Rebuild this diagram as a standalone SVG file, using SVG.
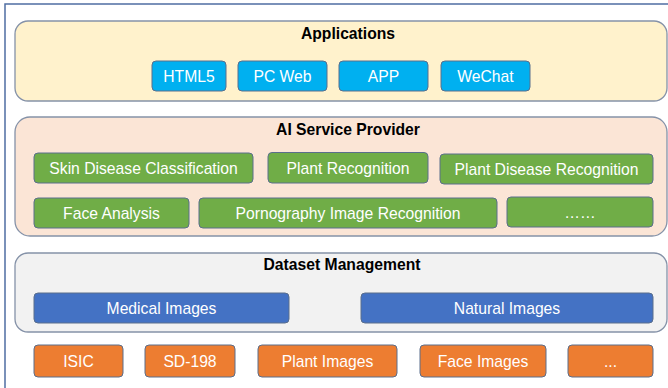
<svg xmlns="http://www.w3.org/2000/svg" width="668" height="388" viewBox="0 0 668 388">
<style>
text{font-family:"Liberation Sans",Arial,sans-serif;text-anchor:middle}
.title{font-size:15.7px;font-weight:bold;fill:#000}
.lbl{font-size:15.7px;fill:#fff}
.cont{stroke:#8592a8;stroke-width:1.3}
.btn{stroke:#5a6e8c;stroke-width:1}
.blue{fill:#00b0f0}
.green{fill:#70ad47}
.dblue{fill:#4472c4}
.orange{fill:#ed7d31}
</style>
<rect width="668" height="388" fill="#fff"/>
<rect x="5" y="4" width="680" height="400" fill="none" stroke="#4f6ea3" stroke-width="1.5"/>
<g id="connectors"/>
<g id="applications">
<rect class="cont" x="15" y="21" width="652" height="80" rx="13" fill="#fff2cc"/>
<text class="title" x="348" y="39">Applications</text>
</g>
<g id="html5"><rect class="btn blue" x="152" y="61" width="74" height="30" rx="4"/><text class="lbl" x="189" y="81.5">HTML5</text></g>
<g id="pcweb"><rect class="btn blue" x="238" y="61" width="89" height="30" rx="4"/><text class="lbl" x="282.5" y="81.5">PC Web</text></g>
<g id="app"><rect class="btn blue" x="339" y="61" width="89" height="30" rx="4"/><text class="lbl" x="383.5" y="81.5">APP</text></g>
<g id="wechat"><rect class="btn blue" x="441" y="61" width="89" height="30" rx="4"/><text class="lbl" x="485.5" y="81.5">WeChat</text></g>
<g id="ai-service">
<rect class="cont" x="15" y="117" width="652" height="119" rx="15" fill="#fbe5d6"/>
<text class="title" x="348" y="134.5">AI Service Provider</text>
</g>
<g id="skin"><rect class="btn green" x="34" y="153" width="219" height="30" rx="4"/><text class="lbl" x="143.5" y="174">Skin Disease Classification</text></g>
<g id="plant-rec"><rect class="btn green" x="268" y="152.5" width="160" height="30.5" rx="4"/><text class="lbl" x="348" y="173.5">Plant Recognition</text></g>
<g id="plant-disease"><rect class="btn green" x="440" y="154" width="213" height="30" rx="4"/><text class="lbl" x="546.5" y="175">Plant Disease Recognition</text></g>
<g id="face-analysis"><rect class="btn green" x="34" y="198" width="155" height="30" rx="4"/><text class="lbl" x="111.5" y="219">Face Analysis</text></g>
<g id="porn"><rect class="btn green" x="199" y="198" width="298" height="30" rx="4"/><text class="lbl" x="348" y="219">Pornography Image Recognition</text></g>
<g id="more-ai"><rect class="btn green" x="507" y="197" width="146" height="30" rx="4"/><text class="lbl" x="580" y="218">……</text></g>
<g id="dataset">
<rect class="cont" x="15" y="253" width="652" height="79" rx="13" fill="#f2f2f2"/>
<text class="title" x="342" y="270">Dataset Management</text>
</g>
<g id="medical"><rect class="btn dblue" x="34" y="293" width="255" height="30" rx="4"/><text class="lbl" x="161.5" y="314">Medical Images</text></g>
<g id="natural"><rect class="btn dblue" x="361" y="293" width="292" height="30" rx="4"/><text class="lbl" x="507" y="314">Natural Images</text></g>
<g id="isic"><rect class="btn orange" x="34" y="345" width="89" height="32" rx="4"/><text class="lbl" x="78.5" y="367">ISIC</text></g>
<g id="sd198"><rect class="btn orange" x="145" y="345" width="90" height="32" rx="4"/><text class="lbl" x="190" y="367">SD-198</text></g>
<g id="plant-images"><rect class="btn orange" x="258" y="345" width="139" height="32" rx="4"/><text class="lbl" x="327.5" y="367">Plant Images</text></g>
<g id="face-images"><rect class="btn orange" x="420" y="345" width="126" height="32" rx="4"/><text class="lbl" x="483" y="367">Face Images</text></g>
<g id="more-data"><rect class="btn orange" x="568" y="345" width="85" height="32" rx="4"/><text class="lbl" x="610.5" y="367">...</text></g>
</svg>
